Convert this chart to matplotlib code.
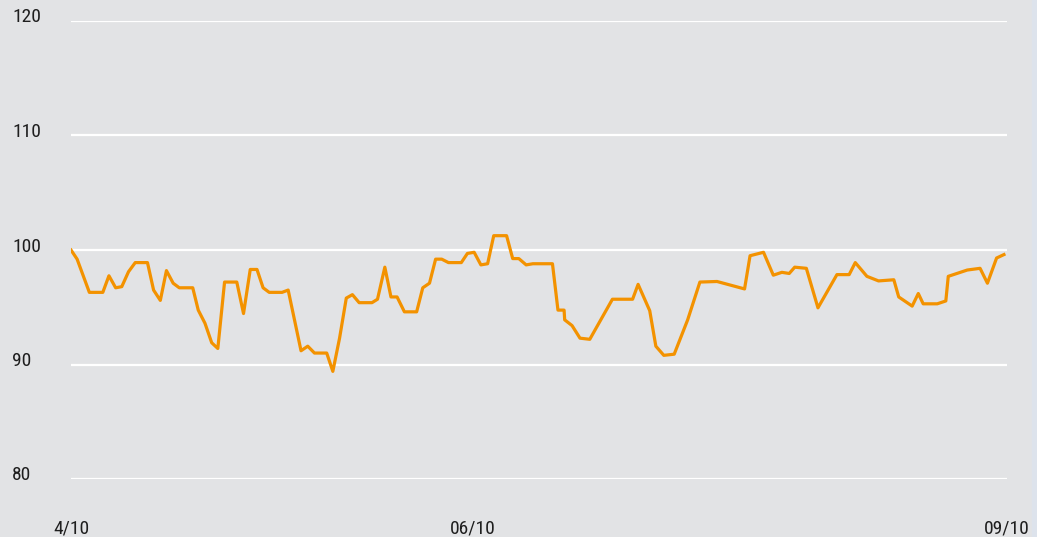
import matplotlib
matplotlib.use("Agg")
import matplotlib.pyplot as plt
import matplotlib.transforms as mtransforms
from matplotlib.patches import Rectangle
from matplotlib import font_manager

# --- data (x in days since 4/10) ---
days = [0, 1.0, 3.0, 5.2, 6.2, 7.3, 8.3, 9.4, 10.5, 12.5, 13.5, 14.6, 15.6, 16.7,
        17.7, 19.9, 20.8, 21.9, 23.0, 24.0, 25.1, 27.1, 28.2, 29.3, 30.4, 31.4,
        32.4, 34.5, 35.5, 37.6, 38.7, 39.8, 41.8, 42.8, 43.9, 45.0, 46.0, 47.1,
        49.2, 50.1, 51.3, 52.3, 53.3, 54.5, 56.5, 57.5, 58.6, 59.6, 60.6, 61.7,
        63.8, 64.8, 65.9, 67.0, 68.1, 69.1, 71.2, 72.2, 73.2, 74.4, 75.5, 78.7,
        79.6, 80.6, 80.7, 81.9, 83.2, 84.8, 88.5, 91.8, 92.7, 94.6, 95.6, 96.9,
        98.6, 100.8, 102.8, 105.6, 110.1, 111.0, 113.2, 114.8, 116.2, 117.4,
        118.3, 120.2, 122.1, 125.2, 127.2, 128.2, 130.1, 132.0, 134.5, 135.3,
        137.5, 138.5, 139.3, 141.6, 143.0, 143.4, 146.5, 148.6, 149.8, 151.3,
        152.5]
index_values = [100.0, 99.2, 96.3, 96.3, 97.75, 96.7, 96.8, 98.1, 98.9, 98.9, 96.5,
                95.6, 98.2, 97.1, 96.7, 96.7, 94.75, 93.6, 91.9, 91.4, 97.2, 97.2,
                94.45, 98.3, 98.3, 96.7, 96.3, 96.3, 96.5, 91.2, 91.6, 91.0, 91.0,
                89.4, 92.3, 95.8, 96.1, 95.4, 95.4, 95.7, 98.5, 95.9, 95.9, 94.6,
                94.6, 96.7, 97.1, 99.2, 99.2, 98.9, 98.9, 99.7, 99.8, 98.7, 98.8,
                101.25, 101.25, 99.25, 99.25, 98.7, 98.8, 98.8, 94.75, 94.75, 93.9,
                93.4, 92.3, 92.2, 95.7, 95.7, 97.0, 94.7, 91.6, 90.8, 90.9, 93.9,
                97.2, 97.25, 96.6, 99.5, 99.8, 97.8, 98.05, 97.95, 98.5, 98.4,
                94.95, 97.85, 97.85, 98.9, 97.7, 97.3, 97.4, 95.9, 95.1, 96.2, 95.3,
                95.3, 95.55, 97.7, 98.25, 98.4, 97.1, 99.3, 99.6]

x_ticks = [0, 65.6, 153]
x_labels = ["4/10", "06/10", "09/10"]
y_ticks = [80, 90, 100, 110, 120]

# --- styling ---
bg = "#e2e3e5"
orange = "#f39200"

# pick a condensed sans if one is around, else fall back
available = {f.name for f in font_manager.fontManager.ttflist}
candidates = ["Roboto Condensed", "Archivo Narrow", "PT Sans Narrow",
              "Liberation Sans Narrow", "Arial Narrow", "IBM Plex Sans Condensed",
              "Liberation Sans"]
font_name = next((c for c in candidates if c in available), "DejaVu Sans")
plt.rcParams["font.family"] = [font_name, "DejaVu Sans"]

fig = plt.figure(figsize=(10.37, 5.37), dpi=100, facecolor=bg)
ax = fig.add_axes([71 / 1037, 1 - 479 / 537, (1007 - 71) / 1037, (479 - 21) / 537])
ax.set_facecolor(bg)

# light strip on the far right edge
fig.patches.append(Rectangle((1032 / 1037, 0), 5 / 1037, 1, transform=fig.transFigure,
                             color="#dde3ec", zorder=0))

for y in y_ticks:
    ax.axhline(y, color="white", linewidth=1.6, zorder=1)

ax.plot(days, index_values, color=orange, linewidth=2.3, zorder=3)

ax.set_xlim(0, 153)
ax.set_ylim(80, 120)
for s in ax.spines.values():
    s.set_visible(False)

# y labels sit at the far left, a little above their gridline
ax.set_yticks([])
ytrans = mtransforms.blended_transform_factory(fig.transFigure, ax.transData)
offset = mtransforms.ScaledTranslation(0, 3.5 / 100, fig.dpi_scale_trans)
for y in y_ticks:
    ax.text(12 / 1037, y, str(y), transform=ytrans + offset, ha="left", va="center",
            fontsize=14, color="#1e1e1e")

ax.set_xticks(x_ticks)
ax.set_xticklabels(x_labels, fontsize=14, color="#1e1e1e")
ax.tick_params(axis="x", length=0, pad=29)

fig.savefig("out.png", dpi=100, facecolor=bg)
